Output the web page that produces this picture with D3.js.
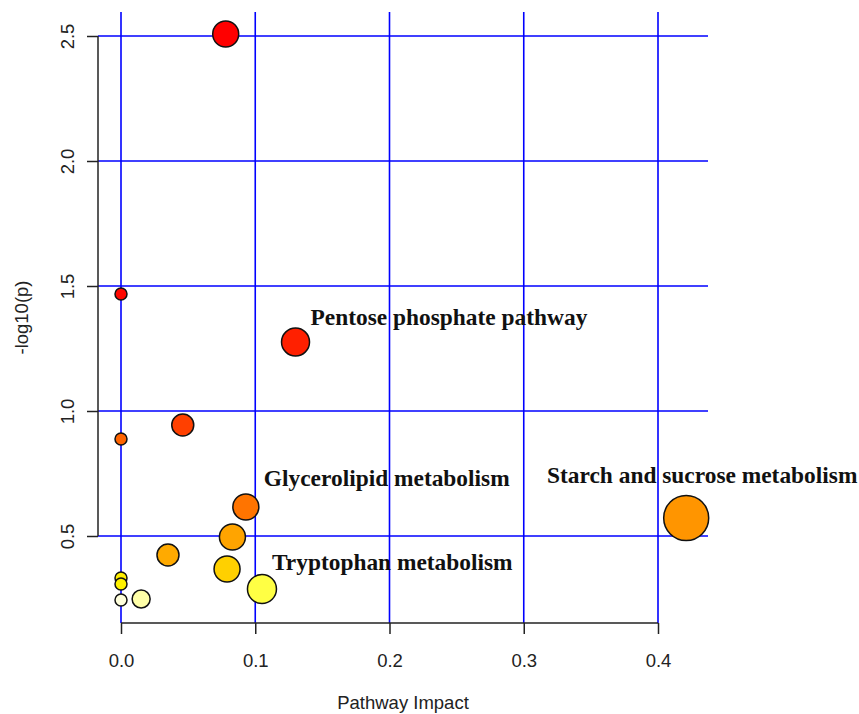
<!DOCTYPE html>
<html><head><meta charset="utf-8">
<script src="https://cdn.jsdelivr.net/npm/d3@7"></script>
<style>body{margin:0;background:#fff}svg{display:block}</style>
</head><body>
<script>
// Data
const pathways = ["p1","p2","Pentose phosphate pathway","p4","p5","Glycerolipid metabolism","p7","p8","p9","Tryptophan metabolism","p11","p12","p13","p14","Starch and sucrose metabolism"];
const impact  = [0.078, 0.0, 0.130, 0.0, 0.046, 0.093, 0.083, 0.035, 0.079, 0.105, 0.0, 0.0, 0.0, 0.015, 0.421];
const logp    = [2.508, 1.468, 1.276, 0.888, 0.944, 0.616, 0.496, 0.424, 0.368, 0.288, 0.332, 0.308, 0.244, 0.248, 0.572];
const sizes   = [13, 6, 14, 6, 11, 13, 13, 11, 13, 14.5, 6, 6, 6, 9, 22.5];
const colors  = ["#FF0000","#FF0800","#FF2000","#FF6400","#FF4000","#FF7400","#FFA400","#FFAA00","#FFD000","#FFFF44","#FFEE00","#FFF200","#FFFFDC","#FFFFA8","#FF9500"];
const labelled = ["Pentose phosphate pathway","Glycerolipid metabolism","Tryptophan metabolism","Starch and sucrose metabolism"];
const xTicks = [0, 0.1, 0.2, 0.3, 0.4];
const yTicks = [0.5, 1.0, 1.5, 2.0, 2.5];

const W = 859, H = 714;
const plot = {l: 98, r: 708, t: 12, b: 623};
const x = d3.scaleLinear().domain([0, 0.4]).range([121, 658]);
const y = d3.scaleLinear().domain([0.5, 2.5]).range([536, 36]);

const svg = d3.select("body").append("svg").attr("width", W).attr("height", H);

// grid
const g = svg.append("g");
g.selectAll("line.v").data(xTicks).enter().append("line")
  .attr("x1", d => x(d)).attr("x2", d => x(d)).attr("y1", plot.t).attr("y2", plot.b)
  .attr("stroke", "#0000FF").attr("stroke-width", 1.6);
g.selectAll("line.h").data(yTicks).enter().append("line")
  .attr("y1", d => y(d)).attr("y2", d => y(d)).attr("x1", plot.l).attr("x2", plot.r)
  .attr("stroke", "#0000FF").attr("stroke-width", 1.6);

// axes
const xAxis = d3.axisBottom(x).tickValues(xTicks).tickFormat(d3.format(".1f")).tickSize(11).tickSizeOuter(0);
const xa = svg.append("g").attr("transform", `translate(0,${plot.b})`).call(xAxis);
xa.select(".domain").attr("stroke", "#222").attr("stroke-width", 1.5).attr("d", `M${x(0)},0H${x(0.4)}`);
xa.selectAll(".tick line").attr("stroke", "#222").attr("stroke-width", 1.5);
xa.selectAll(".tick text").attr("font-family", "Liberation Sans, Arial, sans-serif").attr("font-size", 18.5)
  .attr("fill", "#222").attr("dy", null).attr("y", 44);

const yAxis = d3.axisLeft(y).tickValues(yTicks).tickFormat(d3.format(".1f")).tickSize(11).tickSizeOuter(0);
const ya = svg.append("g").attr("transform", `translate(${plot.l},0)`).call(yAxis);
ya.select(".domain").attr("stroke", "#222").attr("stroke-width", 1.5).attr("d", `M0,${y(2.5)}V${y(0.5)}`);
ya.selectAll(".tick line").attr("stroke", "#222").attr("stroke-width", 1.5);
ya.selectAll(".tick text").attr("font-family", "Liberation Sans, Arial, sans-serif").attr("font-size", 18.5)
  .attr("fill", "#222").attr("x", null).attr("dy", null)
  .attr("text-anchor", "middle")
  .attr("transform", "translate(-31,0) rotate(-90)").attr("y", 0).attr("dominant-baseline", "central");

// titles
svg.append("text").attr("x", (plot.l + plot.r) / 2).attr("y", 709)
  .attr("text-anchor", "middle").attr("font-family", "Liberation Sans, Arial, sans-serif")
  .attr("font-size", 18.5).attr("fill", "#222").text("Pathway Impact");
svg.append("text").attr("transform", `translate(28,${(plot.t + plot.b) / 2}) rotate(-90)`)
  .attr("text-anchor", "middle").attr("font-family", "Liberation Sans, Arial, sans-serif")
  .attr("font-size", 18.5).attr("fill", "#222").text("-log10(p)");

// points
const data = pathways.map((p, i) => ({name: p, x: impact[i], y: logp[i], r: sizes[i], c: colors[i]}));
svg.append("g").selectAll("circle").data(data).enter().append("circle")
  .attr("cx", d => x(d.x)).attr("cy", d => y(d.y)).attr("r", d => d.r)
  .attr("fill", d => d.c).attr("stroke", "#111").attr("stroke-width", 1.5);

// labels
const offs = {
  "Pentose phosphate pathway": [15, -17, "start"],
  "Glycerolipid metabolism": [18, -21, "start"],
  "Tryptophan metabolism": [10, -19, "start"],
  "Starch and sucrose metabolism": [16, -35, "middle"]
};
svg.append("g").selectAll("text").data(data.filter(d => labelled.includes(d.name))).enter().append("text")
  .attr("x", d => x(d.x) + offs[d.name][0]).attr("y", d => y(d.y) + offs[d.name][1])
  .attr("text-anchor", d => offs[d.name][2])
  .attr("font-family", "Liberation Serif, Times New Roman, serif").attr("font-weight", "bold")
  .attr("font-size", 23.4).attr("fill", "#111").text(d => d.name);
</script>
</body></html>
